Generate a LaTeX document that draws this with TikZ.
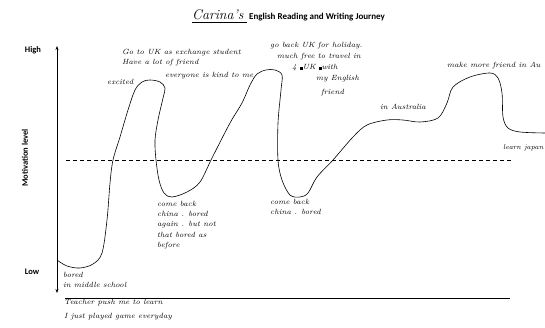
\documentclass[tikz,border=0pt]{standalone}
\usepackage{fontspec}
\setmainfont{Latin Modern Roman}
\newfontfamily\labelfont{Carlito}
\usetikzlibrary{arrows.meta}
\tikzset{
  axislabel/.style={font=\labelfont\bfseries\fontsize{8.5}{10}\selectfont, inner sep=0pt},
  hand/.style={font=\itshape\fontsize{7.5}{10.2}\selectfont, inner sep=0pt, align=left, anchor=base west},
  handblock/.style={hand, anchor=north west},
  axisline/.style={line width=0.7pt},
  journey/.style={line width=0.6pt, line join=round}
}
\newcommand{\blot}{\rule[0ex]{0.8ex}{1ex}}
\begin{document}
\begin{tikzpicture}[x=1pt,y=-1pt]
                    \useasboundingbox (0,0) rectangle (545,328);
                    \node[hand, font=\itshape\fontsize{14}{15}\selectfont] (owner) at (192,20) {Carina's};
                    \draw[line width=0.5pt] (192,22) -- (247,22);
                    \node[axislabel, anchor=base west, font=\labelfont\bfseries\fontsize{9}{10}\selectfont] (title) at (249,20) {English Reading and Writing Journey};
                    \node[axislabel] (high) at (33,50) {High};
                    \node[axislabel] (low) at (32,272) {Low};
                    \node[axislabel, rotate=90] (motiv) at (25,158) {Motivation level};
                    \coordinate (ytop) at (57,46);
                    \coordinate (ybot) at (57,293);
                    \coordinate (xleft) at (65,298);
                    \coordinate (xright) at (510,298);
                    \coordinate (avgleft) at (66,160.5);
                    \coordinate (avgright) at (512,160.5);
                    \draw[axisline,{Stealth[length=4pt,width=3pt]}-{Stealth[length=4pt,width=3pt]}] (ytop) -- (ybot);
                    \draw[axisline] (xleft) -- (xright);
                    \draw[line width=0.8pt, dash pattern=on 4pt off 3pt] (avgleft) -- (avgright);
                    \draw[journey] plot[smooth, tension=0.55] coordinates {
                      (57,260) (67,266) (80,268) (93,264) (102,253) (107,220) (110,183) (113,160)
                      (120,137) (128,110) (135,90) (142,82) (150,80) (160,82) (165,88) (163,98)
                      (158,120) (155,140) (156,160) (159,180) (164,193) (172,197) (187,192) (200,182)
                      (212,158) (230,123) (242,103) (250,85) (257,74) (266,70) (275,70) (282,75)
                      (281,90) (278,123) (278,160) (282,180) (290,195) (300,197) (308,193) (317,177)
                      (333,160) (353,137) (367,125) (387,120) (403,120) (420,122) (438,118) (447,103)
                      (453,87) (470,77) (490,73) (498,78) (502,93) (503,117) (508,128) (520,132) (545,133)};
                    \node[hand] (excited) at (107,85) {excited};
                    \node[handblock] (exchange) at (122,49) {Go to UK as exchange student\\Have a lot of friend};
                    \node[hand] (kind) at (165,78) {everyone is kind to me};
                    \node[hand] (holiday) at (270,48) {go back UK for holiday.};
                    \node[hand] (travel) at (277,59) {much free to travel in};
                    \node[hand] (ukwith) at (292,70) {4 \blot UK \blot with};
                    \node[hand] (english) at (316,81) {my English};
                    \node[hand] (friend) at (321,95) {friend};
                    \node[hand] (australia) at (380,110) {in Australia};
                    \node[hand] (morefriend) at (447,68) {make more friend in Au};
                    \node[hand, font=\itshape\fontsize{7}{9}\selectfont] (japan) at (503,150) {learn japan};
                    \node[handblock] (china1) at (157,201) {come back\\china . bored\\again . but not\\that bored as\\before};
                    \node[handblock] (china2) at (270,199) {come back\\china . bored};
                    \node[handblock] (middle) at (63,272) {bored\\in middle school};
                    \node[handblock, font=\itshape\fontsize{7.5}{14}\selectfont] (teacher) at (64,299) {Teacher push me to learn\\I just played game everyday};
                  \end{tikzpicture}
\end{document}
